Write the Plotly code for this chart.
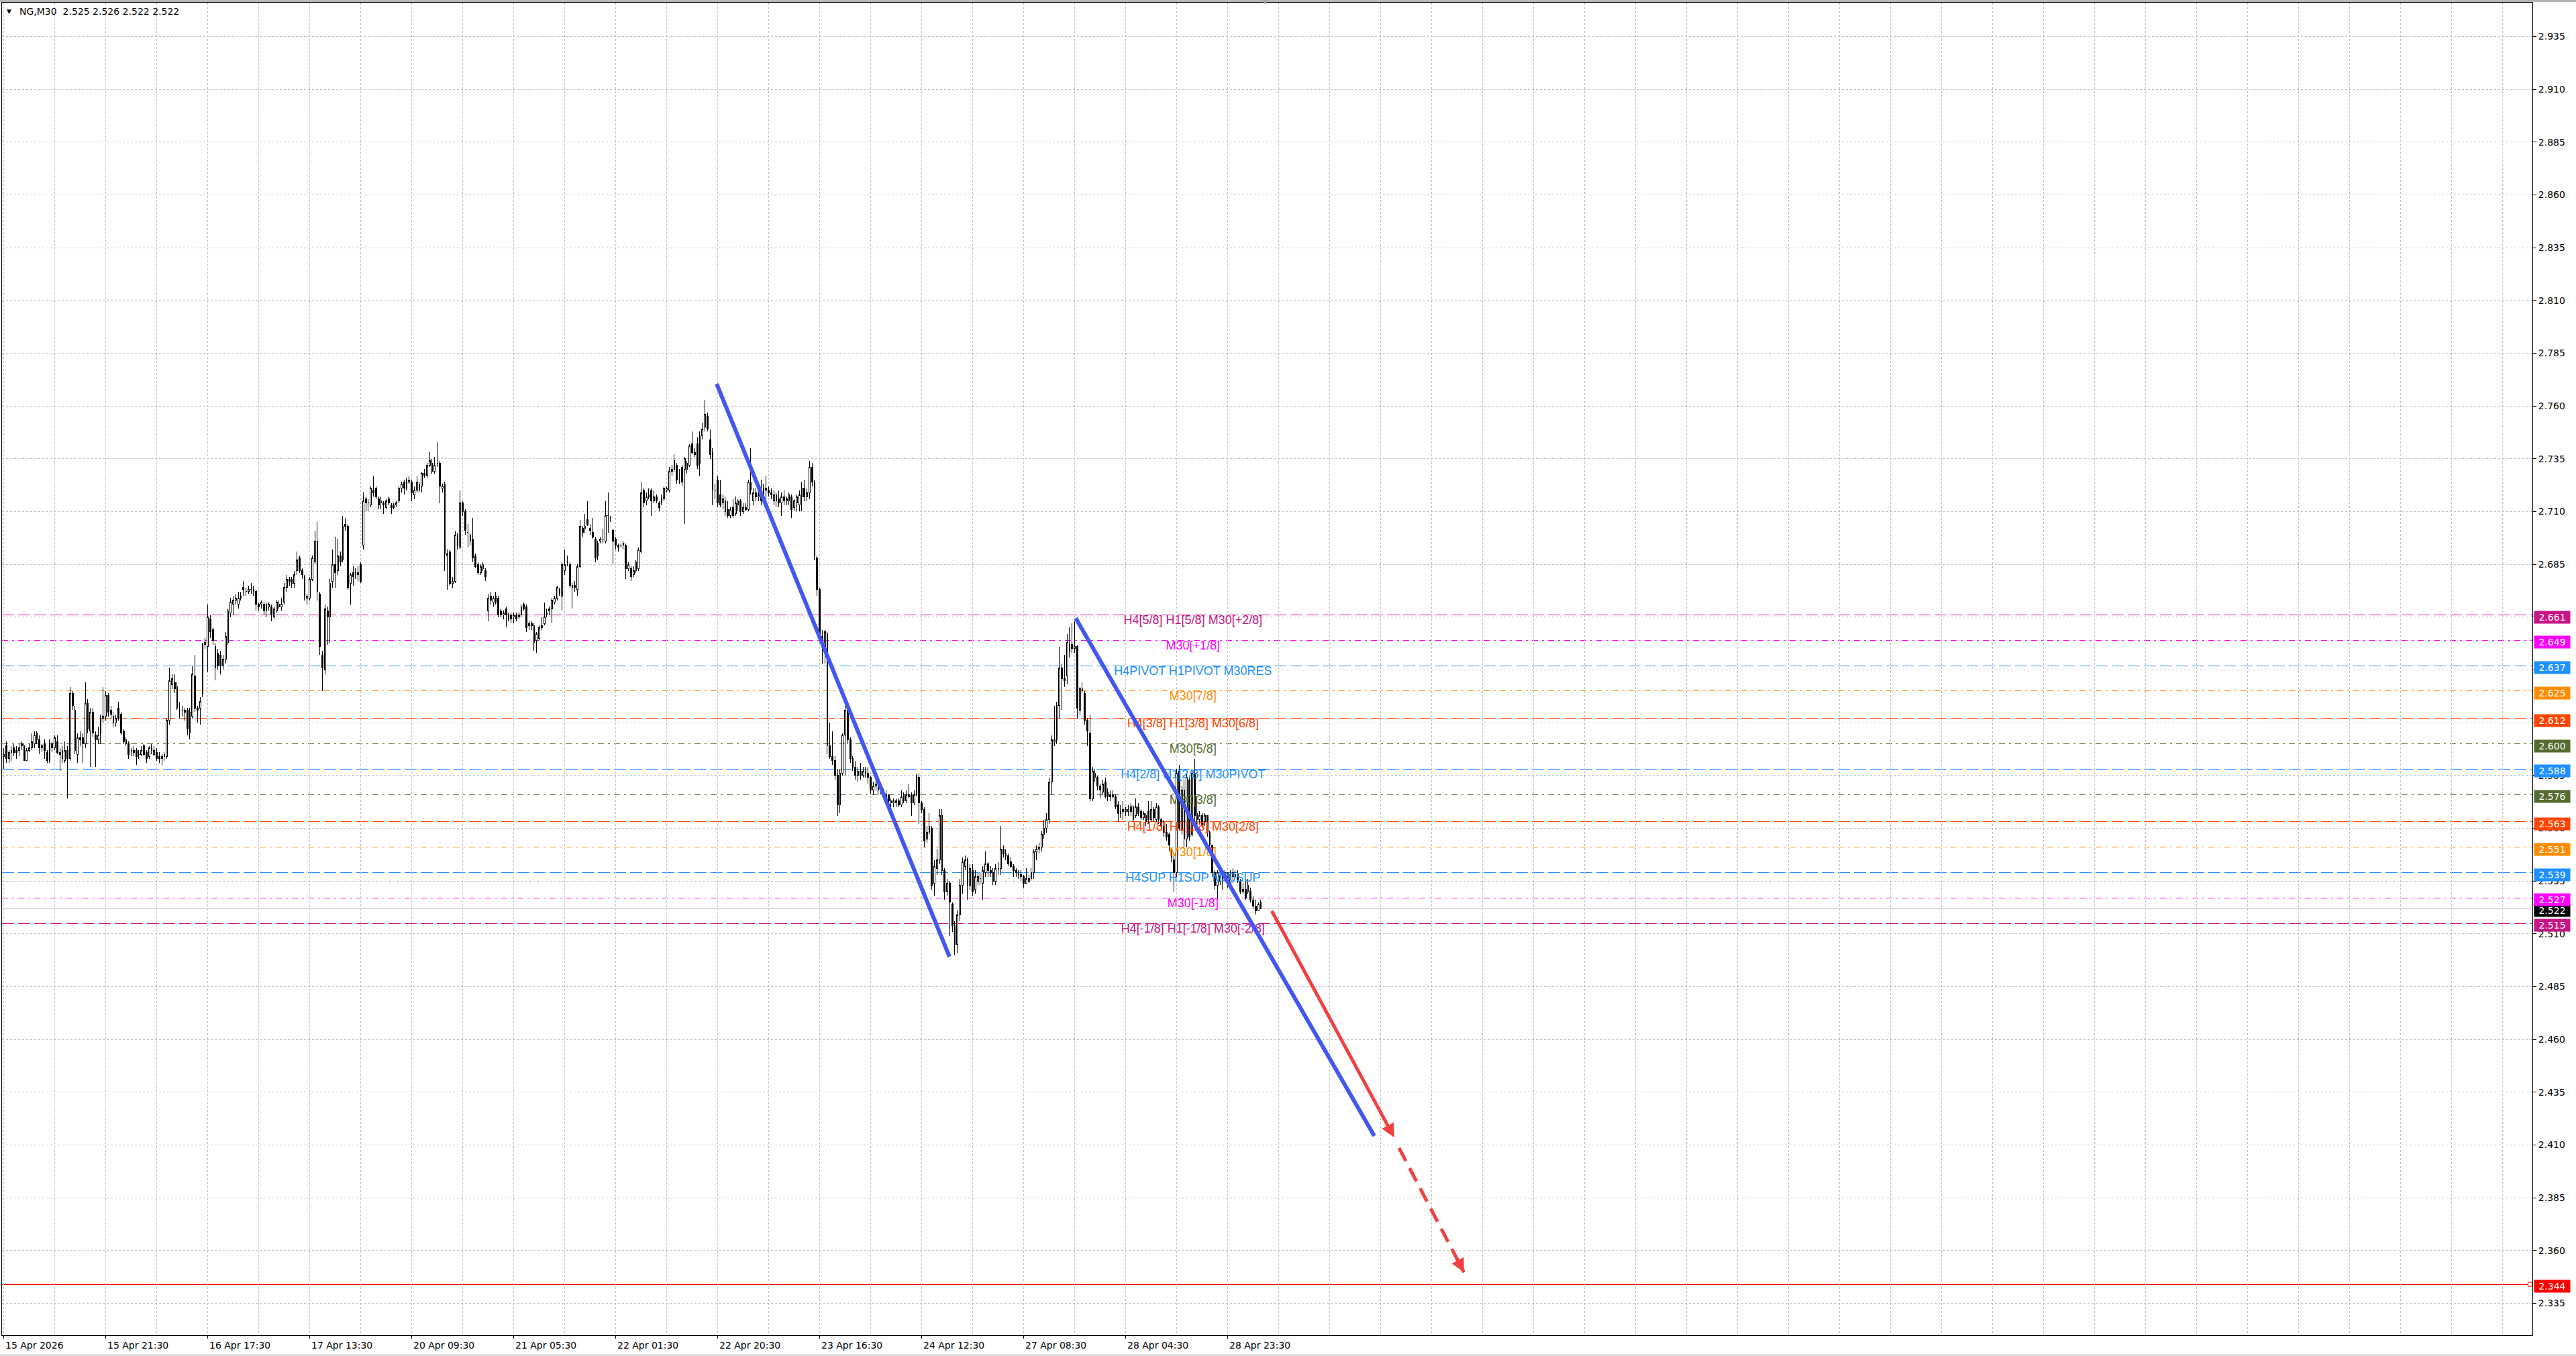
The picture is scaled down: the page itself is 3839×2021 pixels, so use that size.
import plotly.graph_objects as go

# ---------------- data ----------------
TIME_LABEL_BARS = [0, 40, 80, 120, 160, 200, 240, 280, 320, 360, 400, 440, 480]
TIME_LABELS = ["15 Apr 2026", "15 Apr 21:30", "16 Apr 17:30", "17 Apr 13:30",
               "20 Apr 09:30", "21 Apr 05:30", "22 Apr 01:30", "22 Apr 20:30",
               "23 Apr 16:30", "24 Apr 12:30", "27 Apr 08:30", "28 Apr 04:30",
               "28 Apr 23:30"]

OPEN = [
    2.594, 2.599, 2.593, 2.596, 2.598, 2.597, 2.597, 2.599, 2.599, 2.592,
    2.597, 2.598, 2.600, 2.605, 2.602, 2.598, 2.600, 2.596, 2.592, 2.600,
    2.598, 2.601, 2.595, 2.597, 2.592, 2.597, 2.593, 2.624, 2.616, 2.595,
    2.603, 2.603, 2.600, 2.619, 2.606, 2.615, 2.604, 2.602, 2.605, 2.612,
    2.613, 2.623, 2.616, 2.613, 2.610, 2.617, 2.614, 2.606, 2.602, 2.600,
    2.597, 2.597, 2.597, 2.595, 2.595, 2.599, 2.596, 2.594, 2.598, 2.595,
    2.596, 2.594, 2.594, 2.594, 2.594, 2.611, 2.628, 2.629, 2.627, 2.616,
    2.616, 2.616, 2.616, 2.605, 2.613, 2.632, 2.617, 2.617, 2.624, 2.647,
    2.646, 2.659, 2.654, 2.646, 2.643, 2.642, 2.637, 2.640, 2.648, 2.662,
    2.666, 2.668, 2.666, 2.669, 2.674, 2.672, 2.672, 2.673, 2.673, 2.672,
    2.666, 2.666, 2.666, 2.663, 2.665, 2.665, 2.660, 2.663, 2.665, 2.665,
    2.667, 2.674, 2.678, 2.678, 2.676, 2.682, 2.688, 2.682, 2.679, 2.669,
    2.669, 2.678, 2.686, 2.696, 2.671, 2.642, 2.635, 2.663, 2.660, 2.677,
    2.685, 2.682, 2.689, 2.687, 2.704,
    2.703, 2.676, 2.681, 2.680, 2.680, 2.685, 2.694, 2.716, 2.714, 2.713,
    2.720, 2.721, 2.716, 2.714, 2.714, 2.712, 2.716, 2.713, 2.712, 2.713,
    2.715, 2.721, 2.724, 2.721, 2.724, 2.724, 2.718, 2.720, 2.723, 2.722,
    2.728, 2.727, 2.732, 2.733, 2.729, 2.733, 2.733, 2.721, 2.723, 2.689,
    2.691, 2.676, 2.677, 2.699, 2.693, 2.714, 2.710, 2.700, 2.699, 2.697,
    2.689, 2.685, 2.681, 2.685, 2.682, 2.663, 2.670, 2.667, 2.667, 2.669,
    2.663, 2.661, 2.664, 2.659, 2.661, 2.660, 2.661, 2.660, 2.661, 2.666,
    2.665, 2.657, 2.656, 2.656, 2.649, 2.650, 2.655, 2.657, 2.661, 2.663,
    2.664, 2.667, 2.669, 2.673, 2.670, 2.682, 2.686, 2.685, 2.674, 2.675,
    2.673, 2.684, 2.702, 2.702, 2.706, 2.702, 2.700, 2.697, 2.689, 2.696,
    2.697, 2.696, 2.708, 2.707, 2.701, 2.697, 2.694, 2.694, 2.694, 2.694,
    2.683, 2.683, 2.680, 2.682, 2.683, 2.691, 2.720, 2.715, 2.717, 2.720,
    2.715, 2.717, 2.714, 2.714, 2.716, 2.720, 2.720, 2.730, 2.730, 2.732,
    2.725, 2.731, 2.730, 2.733, 2.732, 2.742, 2.737,
    2.742, 2.733, 2.746, 2.750, 2.755, 2.744, 2.738, 2.720, 2.725, 2.718,
    2.714, 2.715, 2.711, 2.708, 2.712, 2.709, 2.713, 2.715, 2.710, 2.712,
    2.711, 2.724, 2.715, 2.719, 2.717, 2.720, 2.716, 2.721, 2.720, 2.719,
    2.715, 2.718, 2.716, 2.714, 2.717, 2.715, 2.715, 2.717, 2.712, 2.714,
    2.713, 2.717, 2.721, 2.717, 2.719, 2.731, 2.724, 2.688, 2.673, 2.651,
    2.646, 2.652, 2.599, 2.594, 2.592, 2.585, 2.571, 2.586, 2.604, 2.616,
    2.602, 2.593, 2.589, 2.585, 2.587, 2.585, 2.587, 2.586, 2.584, 2.578,
    2.580, 2.581, 2.579, 2.578, 2.575, 2.576, 2.573, 2.572, 2.572, 2.573,
    2.571, 2.576, 2.573, 2.575, 2.576, 2.572, 2.576, 2.584, 2.572, 2.569,
    2.555, 2.558, 2.560, 2.534, 2.541, 2.545, 2.566, 2.540, 2.530, 2.534,
    2.524, 2.514, 2.505, 2.519, 2.533, 2.542, 2.545, 2.533, 2.540, 2.531,
    2.535, 2.536, 2.534, 2.539, 2.543, 2.540, 2.539, 2.535, 2.541, 2.541,
    2.550, 2.548, 2.547, 2.544, 2.542, 2.540, 2.538, 2.538, 2.537, 2.534,
    2.535, 2.536, 2.539, 2.549, 2.550, 2.551, 2.557, 2.560, 2.564, 2.582,
    2.601, 2.602, 2.618, 2.636, 2.631, 2.632, 2.644, 2.647,
    2.645, 2.646, 2.616, 2.625, 2.624, 2.611, 2.605, 2.574, 2.586, 2.584,
    2.580, 2.577, 2.582, 2.575, 2.576, 2.575, 2.575, 2.571, 2.567, 2.569,
    2.568, 2.568, 2.570, 2.570, 2.566, 2.570, 2.568, 2.565, 2.566, 2.568,
    2.564, 2.569, 2.564, 2.570, 2.564, 2.561, 2.558, 2.557, 2.550, 2.545,
    2.539, 2.587, 2.559, 2.578, 2.555, 2.583, 2.557, 2.586, 2.567, 2.564,
    2.566, 2.563, 2.566, 2.558, 2.552, 2.539, 2.533, 2.535, 2.536, 2.538,
    2.539, 2.534, 2.537, 2.537, 2.538, 2.535, 2.531, 2.531, 2.533, 2.530,
    2.526, 2.523, 2.521, 2.525,
]

HIGH = [
    2.598, 2.601, 2.597, 2.599, 2.600, 2.599, 2.600, 2.601, 2.600, 2.598,
    2.600, 2.605, 2.606, 2.606, 2.604, 2.600, 2.602, 2.597, 2.602, 2.601,
    2.604, 2.604, 2.598, 2.599, 2.601, 2.599, 2.627, 2.625, 2.618, 2.605,
    2.606, 2.605, 2.629, 2.621, 2.617, 2.617, 2.606, 2.608, 2.614, 2.627,
    2.625, 2.624, 2.618, 2.615, 2.614, 2.620, 2.615, 2.607, 2.603, 2.601,
    2.598, 2.599, 2.598, 2.597, 2.599, 2.600, 2.597, 2.599, 2.600, 2.599,
    2.598, 2.596, 2.595, 2.596, 2.612, 2.636, 2.633, 2.633, 2.629, 2.620,
    2.618, 2.617, 2.617, 2.617, 2.637, 2.642, 2.618, 2.622, 2.648, 2.650,
    2.666, 2.661, 2.655, 2.648, 2.645, 2.644, 2.642, 2.653, 2.664, 2.669,
    2.670, 2.671, 2.672, 2.672, 2.677, 2.674, 2.675, 2.676, 2.675, 2.673,
    2.667, 2.668, 2.667, 2.667, 2.667, 2.666, 2.665, 2.668, 2.668, 2.669,
    2.676, 2.680, 2.679, 2.679, 2.682, 2.691, 2.689, 2.683, 2.680, 2.671,
    2.679, 2.689, 2.701, 2.705, 2.672, 2.644, 2.666, 2.665, 2.678, 2.692,
    2.698, 2.697, 2.691, 2.708, 2.707,
    2.704, 2.681, 2.684, 2.683, 2.684, 2.686, 2.719, 2.717, 2.716, 2.722,
    2.727, 2.722, 2.717, 2.717, 2.715, 2.716, 2.717, 2.714, 2.714, 2.715,
    2.722, 2.724, 2.725, 2.726, 2.727, 2.725, 2.722, 2.727, 2.724, 2.729,
    2.730, 2.733, 2.738, 2.735, 2.736, 2.743, 2.734, 2.723, 2.724, 2.692,
    2.692, 2.679, 2.701, 2.700, 2.720, 2.715, 2.711, 2.704, 2.700, 2.707,
    2.690, 2.686, 2.685, 2.686, 2.683, 2.671, 2.672, 2.670, 2.672, 2.670,
    2.664, 2.663, 2.665, 2.662, 2.662, 2.662, 2.662, 2.662, 2.666, 2.667,
    2.666, 2.658, 2.658, 2.657, 2.653, 2.656, 2.660, 2.667, 2.664, 2.665,
    2.669, 2.670, 2.675, 2.674, 2.686, 2.692, 2.689, 2.686, 2.676, 2.677,
    2.685, 2.706, 2.703, 2.709, 2.715, 2.704, 2.707, 2.698, 2.696, 2.698,
    2.702, 2.715, 2.719, 2.708, 2.702, 2.698, 2.695, 2.695, 2.696, 2.695,
    2.686, 2.684, 2.684, 2.687, 2.693, 2.724, 2.721, 2.719, 2.721, 2.721,
    2.720, 2.718, 2.715, 2.718, 2.722, 2.722, 2.731, 2.732, 2.737, 2.733,
    2.730, 2.732, 2.736, 2.734, 2.742, 2.748, 2.740,
    2.745, 2.748, 2.752, 2.763, 2.757, 2.749, 2.740, 2.723, 2.727, 2.725,
    2.718, 2.717, 2.715, 2.712, 2.716, 2.717, 2.716, 2.716, 2.714, 2.714,
    2.725, 2.740, 2.721, 2.721, 2.720, 2.725, 2.723, 2.727, 2.722, 2.721,
    2.720, 2.719, 2.720, 2.719, 2.720, 2.717, 2.719, 2.718, 2.716, 2.718,
    2.720, 2.724, 2.725, 2.721, 2.734, 2.733, 2.725, 2.689, 2.674, 2.654,
    2.654, 2.653, 2.610, 2.606, 2.594, 2.588, 2.588, 2.605, 2.618, 2.618,
    2.603, 2.594, 2.592, 2.589, 2.591, 2.589, 2.589, 2.589, 2.585, 2.582,
    2.584, 2.583, 2.581, 2.579, 2.578, 2.576, 2.574, 2.574, 2.574, 2.574,
    2.578, 2.577, 2.578, 2.581, 2.577, 2.578, 2.586, 2.586, 2.573, 2.570,
    2.561, 2.567, 2.561, 2.545, 2.550, 2.569, 2.569, 2.541, 2.536, 2.535,
    2.525, 2.516, 2.521, 2.536, 2.546, 2.547, 2.546, 2.543, 2.543, 2.540,
    2.539, 2.539, 2.542, 2.549, 2.544, 2.542, 2.541, 2.543, 2.544, 2.561,
    2.552, 2.550, 2.548, 2.546, 2.543, 2.541, 2.540, 2.540, 2.538, 2.541,
    2.538, 2.541, 2.550, 2.552, 2.553, 2.559, 2.564, 2.567, 2.584, 2.604,
    2.618, 2.620, 2.646, 2.638, 2.642, 2.652, 2.655, 2.657,
    2.658, 2.647, 2.627, 2.629, 2.625, 2.612, 2.614, 2.589, 2.588, 2.585,
    2.581, 2.583, 2.584, 2.579, 2.578, 2.578, 2.576, 2.573, 2.571, 2.573,
    2.570, 2.571, 2.572, 2.571, 2.574, 2.572, 2.569, 2.568, 2.567, 2.573,
    2.573, 2.570, 2.572, 2.571, 2.565, 2.564, 2.562, 2.558, 2.551, 2.547,
    2.588, 2.590, 2.580, 2.583, 2.586, 2.584, 2.588, 2.593, 2.575, 2.568,
    2.567, 2.567, 2.566, 2.559, 2.552, 2.540, 2.540, 2.539, 2.540, 2.540,
    2.539, 2.540, 2.541, 2.540, 2.540, 2.536, 2.534, 2.536, 2.536, 2.532,
    2.528, 2.526, 2.525, 2.526,
]

LOW = [
    2.588, 2.591, 2.591, 2.592, 2.594, 2.593, 2.594, 2.597, 2.592, 2.592,
    2.596, 2.597, 2.598, 2.600, 2.595, 2.596, 2.593, 2.591, 2.591, 2.596,
    2.597, 2.595, 2.587, 2.591, 2.591, 2.574, 2.592, 2.616, 2.595, 2.591,
    2.599, 2.591, 2.598, 2.605, 2.589, 2.603, 2.589, 2.600, 2.600, 2.610,
    2.611, 2.613, 2.612, 2.608, 2.608, 2.611, 2.604, 2.600, 2.599, 2.593,
    2.594, 2.594, 2.590, 2.593, 2.594, 2.594, 2.591, 2.593, 2.595, 2.594,
    2.592, 2.591, 2.590, 2.592, 2.593, 2.609, 2.626, 2.624, 2.616, 2.612,
    2.613, 2.611, 2.604, 2.602, 2.612, 2.615, 2.610, 2.609, 2.622, 2.645,
    2.634, 2.650, 2.647, 2.630, 2.635, 2.633, 2.635, 2.638, 2.647, 2.660,
    2.661, 2.666, 2.664, 2.668, 2.670, 2.670, 2.671, 2.671, 2.670, 2.663,
    2.663, 2.664, 2.661, 2.660, 2.663, 2.658, 2.659, 2.662, 2.664, 2.663,
    2.666, 2.672, 2.675, 2.674, 2.674, 2.680, 2.681, 2.678, 2.668, 2.666,
    2.668, 2.677, 2.685, 2.668, 2.642, 2.625, 2.633, 2.647, 2.648, 2.674,
    2.674, 2.680, 2.684, 2.686, 2.701,
    2.673, 2.666, 2.675, 2.678, 2.677, 2.676, 2.692, 2.710, 2.710, 2.712,
    2.717, 2.716, 2.711, 2.711, 2.709, 2.711, 2.713, 2.709, 2.711, 2.712,
    2.714, 2.719, 2.718, 2.720, 2.723, 2.715, 2.716, 2.719, 2.719, 2.719,
    2.726, 2.726, 2.731, 2.728, 2.728, 2.731, 2.714, 2.719, 2.682, 2.673,
    2.675, 2.674, 2.676, 2.692, 2.692, 2.708, 2.699, 2.693, 2.694, 2.686,
    2.683, 2.680, 2.680, 2.682, 2.677, 2.658, 2.666, 2.665, 2.666, 2.660,
    2.660, 2.659, 2.655, 2.658, 2.657, 2.657, 2.658, 2.659, 2.660, 2.663,
    2.653, 2.654, 2.654, 2.644, 2.643, 2.649, 2.654, 2.656, 2.660, 2.661,
    2.657, 2.666, 2.668, 2.670, 2.663, 2.680, 2.684, 2.674, 2.664, 2.672,
    2.670, 2.683, 2.698, 2.700, 2.703, 2.699, 2.697, 2.686, 2.687, 2.695,
    2.695, 2.695, 2.700, 2.705, 2.685, 2.692, 2.691, 2.693, 2.692, 2.678,
    2.682, 2.677, 2.679, 2.681, 2.682, 2.690, 2.712, 2.713, 2.716, 2.708,
    2.714, 2.714, 2.710, 2.713, 2.715, 2.719, 2.719, 2.727, 2.729, 2.723,
    2.723, 2.722, 2.704, 2.728, 2.731, 2.737, 2.736,
    2.730, 2.727, 2.744, 2.748, 2.748, 2.735, 2.713, 2.716, 2.712, 2.712,
    2.711, 2.708, 2.707, 2.707, 2.707, 2.708, 2.710, 2.708, 2.709, 2.710,
    2.710, 2.718, 2.713, 2.715, 2.715, 2.713, 2.715, 2.716, 2.717, 2.716,
    2.713, 2.712, 2.712, 2.708, 2.713, 2.713, 2.713, 2.707, 2.710, 2.710,
    2.710, 2.710, 2.715, 2.715, 2.716, 2.722, 2.687, 2.670, 2.650, 2.638,
    2.638, 2.595, 2.593, 2.590, 2.583, 2.566, 2.567, 2.585, 2.585, 2.600,
    2.591, 2.587, 2.583, 2.582, 2.583, 2.584, 2.584, 2.581, 2.576, 2.576,
    2.578, 2.576, 2.576, 2.574, 2.573, 2.572, 2.570, 2.570, 2.570, 2.570,
    2.570, 2.572, 2.572, 2.574, 2.566, 2.571, 2.575, 2.562, 2.567, 2.551,
    2.553, 2.557, 2.531, 2.528, 2.538, 2.543, 2.538, 2.526, 2.528, 2.509,
    2.511, 2.500, 2.501, 2.516, 2.529, 2.540, 2.526, 2.531, 2.528, 2.529,
    2.533, 2.533, 2.526, 2.537, 2.537, 2.537, 2.533, 2.533, 2.538, 2.538,
    2.546, 2.545, 2.542, 2.541, 2.537, 2.537, 2.536, 2.535, 2.532, 2.534,
    2.534, 2.535, 2.536, 2.545, 2.548, 2.549, 2.555, 2.558, 2.562, 2.576,
    2.599, 2.600, 2.612, 2.616, 2.627, 2.628, 2.641, 2.643,
    2.643, 2.612, 2.614, 2.624, 2.609, 2.599, 2.573, 2.573, 2.582, 2.578,
    2.574, 2.576, 2.574, 2.573, 2.573, 2.574, 2.569, 2.563, 2.565, 2.564,
    2.566, 2.566, 2.566, 2.563, 2.565, 2.566, 2.564, 2.564, 2.561, 2.562,
    2.563, 2.563, 2.563, 2.562, 2.559, 2.556, 2.554, 2.549, 2.544, 2.530,
    2.537, 2.559, 2.557, 2.551, 2.551, 2.554, 2.556, 2.560, 2.562, 2.562,
    2.560, 2.561, 2.556, 2.550, 2.537, 2.531, 2.526, 2.533, 2.531, 2.536,
    2.532, 2.533, 2.534, 2.536, 2.534, 2.529, 2.529, 2.526, 2.529, 2.525,
    2.522, 2.519, 2.521, 2.522,
]

CLOSE = [
    2.595, 2.593, 2.596, 2.597, 2.596, 2.596, 2.598, 2.600, 2.592, 2.597,
    2.598, 2.601, 2.604, 2.602, 2.598, 2.599, 2.597, 2.592, 2.600, 2.598,
    2.603, 2.596, 2.596, 2.593, 2.597, 2.593, 2.624, 2.618, 2.597, 2.603,
    2.602, 2.600, 2.619, 2.607, 2.615, 2.605, 2.602, 2.604, 2.612, 2.613,
    2.623, 2.615, 2.614, 2.610, 2.612, 2.612, 2.605, 2.601, 2.600, 2.595,
    2.597, 2.596, 2.594, 2.595, 2.597, 2.595, 2.593, 2.598, 2.597, 2.597,
    2.593, 2.593, 2.593, 2.595, 2.611, 2.630, 2.631, 2.626, 2.617, 2.616,
    2.616, 2.615, 2.607, 2.615, 2.633, 2.617, 2.616, 2.620, 2.647, 2.648,
    2.660, 2.653, 2.649, 2.636, 2.637, 2.637, 2.640, 2.651, 2.663, 2.667,
    2.668, 2.669, 2.669, 2.670, 2.673, 2.672, 2.673, 2.673, 2.672, 2.666,
    2.665, 2.667, 2.663, 2.666, 2.666, 2.661, 2.664, 2.667, 2.666, 2.666,
    2.674, 2.678, 2.677, 2.676, 2.680, 2.687, 2.682, 2.680, 2.670, 2.670,
    2.678, 2.688, 2.696, 2.672, 2.646, 2.636, 2.664, 2.660, 2.676, 2.685,
    2.681, 2.689, 2.686, 2.703, 2.703,
    2.674, 2.680, 2.679, 2.681, 2.681, 2.677, 2.715, 2.714, 2.714, 2.721,
    2.719, 2.717, 2.713, 2.715, 2.713, 2.715, 2.714, 2.712, 2.713, 2.714,
    2.721, 2.723, 2.721, 2.725, 2.725, 2.719, 2.720, 2.724, 2.720, 2.728,
    2.727, 2.732, 2.734, 2.729, 2.732, 2.733, 2.722, 2.722, 2.690, 2.690,
    2.676, 2.677, 2.699, 2.694, 2.714, 2.710, 2.701, 2.700, 2.696, 2.688,
    2.684, 2.681, 2.684, 2.683, 2.679, 2.669, 2.668, 2.669, 2.670, 2.661,
    2.661, 2.662, 2.661, 2.661, 2.659, 2.661, 2.659, 2.661, 2.665, 2.664,
    2.655, 2.656, 2.657, 2.648, 2.652, 2.655, 2.656, 2.660, 2.662, 2.664,
    2.668, 2.669, 2.674, 2.671, 2.685, 2.685, 2.686, 2.675, 2.675, 2.674,
    2.684, 2.703, 2.700, 2.703, 2.704, 2.701, 2.698, 2.688, 2.695, 2.697,
    2.697, 2.708, 2.708, 2.707, 2.696, 2.694, 2.693, 2.694, 2.695, 2.683,
    2.685, 2.679, 2.682, 2.686, 2.692, 2.719, 2.714, 2.717, 2.718, 2.715,
    2.717, 2.715, 2.712, 2.716, 2.721, 2.721, 2.729, 2.729, 2.734, 2.725,
    2.725, 2.724, 2.735, 2.730, 2.741, 2.738, 2.738,
    2.732, 2.746, 2.749, 2.756, 2.749, 2.737, 2.720, 2.720, 2.714, 2.713,
    2.716, 2.710, 2.708, 2.711, 2.708, 2.714, 2.715, 2.710, 2.712, 2.711,
    2.724, 2.720, 2.719, 2.717, 2.718, 2.715, 2.721, 2.720, 2.719, 2.718,
    2.718, 2.715, 2.714, 2.717, 2.715, 2.716, 2.718, 2.711, 2.715, 2.717,
    2.718, 2.721, 2.717, 2.719, 2.731, 2.724, 2.689, 2.673, 2.652, 2.646,
    2.653, 2.599, 2.594, 2.592, 2.585, 2.571, 2.586, 2.604, 2.616, 2.602,
    2.593, 2.589, 2.585, 2.587, 2.585, 2.587, 2.586, 2.584, 2.578, 2.580,
    2.581, 2.578, 2.578, 2.575, 2.576, 2.573, 2.572, 2.573, 2.573, 2.571,
    2.575, 2.573, 2.576, 2.576, 2.572, 2.576, 2.584, 2.572, 2.569, 2.554,
    2.558, 2.561, 2.533, 2.542, 2.545, 2.566, 2.540, 2.530, 2.534, 2.525,
    2.514, 2.505, 2.519, 2.533, 2.544, 2.545, 2.533, 2.541, 2.530, 2.537,
    2.537, 2.536, 2.540, 2.543, 2.540, 2.539, 2.535, 2.541, 2.541, 2.550,
    2.548, 2.547, 2.543, 2.542, 2.540, 2.539, 2.538, 2.537, 2.534, 2.536,
    2.536, 2.539, 2.549, 2.550, 2.551, 2.557, 2.560, 2.564, 2.582, 2.602,
    2.602, 2.618, 2.636, 2.631, 2.630, 2.648, 2.647, 2.645,
    2.646, 2.617, 2.626, 2.626, 2.611, 2.606, 2.574, 2.587, 2.584, 2.580,
    2.578, 2.581, 2.575, 2.577, 2.575, 2.576, 2.570, 2.567, 2.568, 2.568,
    2.569, 2.569, 2.568, 2.564, 2.570, 2.567, 2.565, 2.567, 2.563, 2.564,
    2.569, 2.565, 2.570, 2.564, 2.561, 2.558, 2.556, 2.552, 2.546, 2.539,
    2.586, 2.560, 2.578, 2.555, 2.584, 2.556, 2.586, 2.566, 2.564, 2.566,
    2.562, 2.566, 2.558, 2.552, 2.539, 2.533, 2.539, 2.537, 2.538, 2.539,
    2.534, 2.538, 2.539, 2.538, 2.535, 2.530, 2.530, 2.527, 2.530, 2.526,
    2.523, 2.521, 2.524, 2.522,
]

PRICE_TICKS = [2.335, 2.360, 2.385, 2.410, 2.435, 2.460, 2.485, 2.510, 2.535,
               2.560, 2.585, 2.610, 2.635, 2.660, 2.685, 2.710, 2.735, 2.760,
               2.785, 2.810, 2.835, 2.860, 2.885, 2.910, 2.935]

LEVELS = [2.661, 2.649, 2.637, 2.625, 2.612, 2.600, 2.588, 2.576, 2.563,
          2.551, 2.539, 2.527, 2.515]
LEVEL_LABELS = ["H4[5/8] H1[5/8] M30[+2/8]", "M30[+1/8]", "H4PIVOT H1PIVOT M30RES",
                "M30[7/8]", "H4[3/8] H1[3/8] M30[6/8]", "M30[5/8]",
                "H4[2/8] H1[2/8] M30PIVOT", "M30[3/8]", "H4[1/8] H1[1/8] M30[2/8]",
                "M30[1/8]", "H4SUP H1SUP M30SUP", "M30[-1/8]",
                "H4[-1/8] H1[-1/8] M30[-2/8]"]
LEVEL_COLORS = ["#C71585", "#FF00FF", "#1E90FF", "#FF8C00", "#FF4500", "#556B2F",
                "#1E90FF", "#556B2F", "#FF4500", "#FF8C00", "#1E90FF", "#FF00FF",
                "#C71585"]
LEVEL_STYLES = ["dash", "dashdot", "dash", "dashdot", "dash", "dashdot", "dash",
                "dashdot", "dash", "dashdot", "dash", "dashdot", "dash"]
LABEL_BAR = 466.4

BID_PRICE = 2.522
ALERT_PRICE = 2.344

TREND_A_X = [279.6, 370.9]
TREND_A_Y = [2.7705, 2.4992]
TREND_B_X = [420.4, 537.5]
TREND_B_Y = [2.6595, 2.4143]
ARROW_SOLID_X = [497.1, 545.3]
ARROW_SOLID_Y = [2.5213, 2.4136]
ARROW_DASH_X = [547.2, 572.7]
ARROW_DASH_Y = [2.4086, 2.3497]

HEADER = "NG,M30&nbsp; 2.525 2.526 2.522 2.522"

# ---------------- styling ----------------
W, H = 3839, 2021
M_L, M_R, M_T, M_B = 3, 65, 4, 31
X_RANGE = [-0.68, 991.7]
Y_RANGE = [2.3199, 2.9510]
GRID = "#C0C0C0"
BLUE = "#4257F2"
RED = "#F24040"
AXIS_FONT = dict(family="DejaVu Sans, Verdana, sans-serif", size=14, color="black")
DASH_MAP = {"dash": "18px,6px", "dashdot": "9px,6px,3px,6px"}

n = min(len(OPEN), len(HIGH), len(LOW), len(CLOSE))
bars = list(range(n))

fig = go.Figure()

fig.add_trace(go.Candlestick(
    x=bars, open=OPEN[:n], high=HIGH[:n], low=LOW[:n], close=CLOSE[:n],
    increasing=dict(line=dict(color="black", width=1), fillcolor="white"),
    decreasing=dict(line=dict(color="black", width=1), fillcolor="black"),
    whiskerwidth=0, showlegend=False, hoverinfo="none",
))

# level lines
for lvl, col, sty in zip(LEVELS, LEVEL_COLORS, LEVEL_STYLES):
    fig.add_shape(type="line", xref="paper", x0=0, x1=1, yref="y", y0=lvl, y1=lvl,
                  line=dict(color=col, width=1, dash=DASH_MAP[sty]), layer="below")
fig.add_shape(type="line", xref="paper", x0=0, x1=1, yref="y", y0=BID_PRICE, y1=BID_PRICE,
              line=dict(color="#C0C0C0", width=1), layer="below")
fig.add_shape(type="line", xref="paper", x0=0, x1=1, yref="y", y0=ALERT_PRICE, y1=ALERT_PRICE,
              line=dict(color="#FF0000", width=1), layer="below")

# level labels (as a text trace so the trend lines can cover them)
fig.add_trace(go.Scatter(
    x=[LABEL_BAR] * len(LEVELS), y=LEVELS, mode="text", text=LEVEL_LABELS,
    textposition="bottom center",
    textfont=dict(family="Liberation Sans, Arial, sans-serif", size=18, color=LEVEL_COLORS),
    showlegend=False, hoverinfo="none",
))

# trend lines
for xs, ys in ((TREND_A_X, TREND_A_Y), (TREND_B_X, TREND_B_Y)):
    fig.add_trace(go.Scatter(x=xs, y=ys, mode="lines", line=dict(color=BLUE, width=6),
                             showlegend=False, hoverinfo="none"))

# dashed projection
fig.add_trace(go.Scatter(x=ARROW_DASH_X, y=ARROW_DASH_Y, mode="lines",
                         line=dict(color=RED, width=5, dash="22px,12px"),
                         showlegend=False, hoverinfo="none", cliponaxis=False))

# selection handle of the alert line
fig.add_trace(go.Scatter(x=[X_RANGE[1] - 0.9], y=[ALERT_PRICE], mode="markers",
                         marker=dict(symbol="square", size=6, color="white",
                                     line=dict(color="#FF0000", width=1)),
                         showlegend=False, hoverinfo="none", cliponaxis=False))

# solid red arrow
fig.add_annotation(x=ARROW_SOLID_X[1], y=ARROW_SOLID_Y[1], ax=ARROW_SOLID_X[0], ay=ARROW_SOLID_Y[0],
                   xref="x", yref="y", axref="x", ayref="y", text="", showarrow=True,
                   arrowhead=2, arrowsize=0.8, arrowwidth=5, arrowcolor=RED)
# head of the dashed arrow
hx0 = ARROW_DASH_X[1] - 0.12 * (ARROW_DASH_X[1] - ARROW_DASH_X[0])
hy0 = ARROW_DASH_Y[1] - 0.12 * (ARROW_DASH_Y[1] - ARROW_DASH_Y[0])
fig.add_annotation(x=ARROW_DASH_X[1], y=ARROW_DASH_Y[1], ax=hx0, ay=hy0,
                   xref="x", yref="y", axref="x", ayref="y", text="", showarrow=True,
                   arrowhead=2, arrowsize=0.8, arrowwidth=5, arrowcolor=RED)

# time labels (left-aligned at their tick, MetaTrader style)
for b, lab in zip(TIME_LABEL_BARS, TIME_LABELS):
    fig.add_annotation(x=b, y=0, xref="x", yref="paper", text=lab, showarrow=False,
                       xanchor="left", yanchor="middle", yshift=-15, font=AXIS_FONT)

# price boxes on the right scale
BOX_PRICES = [BID_PRICE] + LEVELS + [ALERT_PRICE]
BOX_COLORS = ["#000000"] + LEVEL_COLORS + ["#FF0000"]
for p, col in zip(BOX_PRICES, BOX_COLORS):
    fig.add_annotation(x=1, xref="paper", y=p, yref="y", xanchor="left", yanchor="middle",
                       xshift=2, yshift=-3, width=53, height=18, borderpad=0,
                       bgcolor=col, text=f"{p:.3f}", showarrow=False, align="center",
                       font=dict(family="DejaVu Sans, Verdana, sans-serif", size=14, color="white"))

# header
fig.add_annotation(x=(13.5 - M_L) / (W - M_L - M_R), y=1, xref="paper", yref="paper",
                   text="▼", showarrow=False, xanchor="center", yanchor="middle", yshift=-13,
                   font=dict(family="DejaVu Sans", size=9, color="black"))
fig.add_annotation(x=(27 - M_L) / (W - M_L - M_R), y=1, xref="paper", yref="paper",
                   text=HEADER, showarrow=False, xanchor="left", yanchor="middle", yshift=-13,
                   font=AXIS_FONT)
# chart-shift marker on the top border
fig.add_annotation(x=494.6, y=1, xref="x", yref="paper", text="▼", showarrow=False,
                   xanchor="center", yanchor="middle", yshift=1,
                   font=dict(family="DejaVu Sans", size=8, color="#A0A0A0"))

# window bands
fig.add_shape(type="rect", xref="paper", yref="paper", x0=-0.001, x1=1.02,
              y0=1 + 1 / (H - M_T - M_B), y1=1 + M_T / (H - M_T - M_B) + 0.001,
              fillcolor="#B4B4B4", line_width=0, layer="above")
fig.add_shape(type="rect", xref="paper", yref="paper", x0=-0.001, x1=1.02,
              y0=-(M_B) / (H - M_T - M_B) - 0.001, y1=-(M_B - 3) / (H - M_T - M_B),
              fillcolor="#E0E0E0", line_width=0, layer="above")

fig.update_layout(
    width=W, height=H, margin=dict(l=M_L, r=M_R, t=M_T, b=M_B, pad=0),
    paper_bgcolor="white", plot_bgcolor="white", showlegend=False, hovermode=False,
    xaxis=dict(range=X_RANGE, rangeslider=dict(visible=False), tickvals=TIME_LABEL_BARS,
               showticklabels=False, ticks="outside", ticklen=4, tickcolor="black",
               showgrid=True, gridcolor=GRID, griddash="3px,3px", gridwidth=1,
               minor=dict(tick0=0, dtick=20, showgrid=True, gridcolor=GRID,
                          griddash="3px,3px", ticks=""),
               showline=True, linecolor="black", linewidth=1, mirror=True,
               zeroline=False, fixedrange=True),
    yaxis=dict(side="right", range=Y_RANGE, tickvals=PRICE_TICKS,
               ticktext=[f"{v:.3f}" for v in PRICE_TICKS], ticks="outside", ticklen=5,
               tickcolor="black", tickfont=AXIS_FONT, showgrid=True, gridcolor=GRID,
               griddash="3px,3px", gridwidth=1, showline=True, linecolor="black",
               linewidth=1, mirror=True, zeroline=False, fixedrange=True),
)

POST = (
    "document.body.style.margin='0';document.body.style.overflow='hidden';"
    "document.querySelectorAll('.boxlayer path, .layer-below .shapelayer path')"
    ".forEach(function(e){e.style.shapeRendering='crispEdges';});"
)

fig.write_html("out.html", include_plotlyjs=True, full_html=True,
               config={"displayModeBar": False, "staticPlot": True},
               post_script=POST)
